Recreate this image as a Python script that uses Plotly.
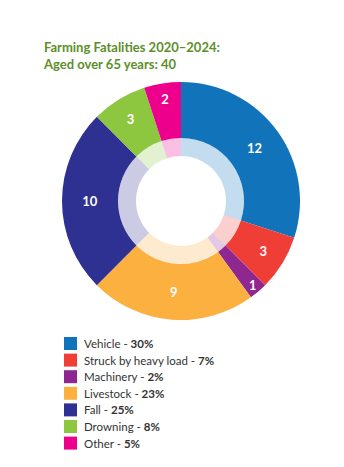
import plotly.graph_objects as go

categories = ["Vehicle", "Struck by heavy load", "Machinery", "Livestock", "Fall", "Drowning", "Other"]
values = [12, 3, 1, 9, 10, 3, 2]
percent_labels = ["30%", "7%", "2%", "23%", "25%", "8%", "5%"]
colors = ["#1174bb", "#ef3e36", "#8e278f", "#fbb040", "#2e3192", "#8dc63f", "#ec008c"]
title_lines = ["Farming Fatalities 2020–2024:", "Aged over 65 years: 40"]

W, H = 344, 467
cx, cy = 181, 201
r_out, r_mid, r_in = 119, 63, 45


def hex_rgba(h, a):
    h = h.lstrip("#")
    return f"rgba({int(h[0:2],16)},{int(h[2:4],16)},{int(h[4:6],16)},{a})"


def dom(r):
    return dict(x=[(cx - r) / W, (cx + r) / W], y=[(H - cy - r) / H, (H - cy + r) / H])


fig = go.Figure()
fig.add_trace(go.Pie(
    labels=categories, values=values, sort=False, direction="clockwise", rotation=0,
    hole=r_mid / r_out, domain=dom(r_out),
    marker=dict(colors=colors, line=dict(width=0)),
    texttemplate="%{value}", textposition="inside", insidetextorientation="horizontal",
    textfont=dict(family="Lato", size=13, color="white", weight="bold"),
    showlegend=False, hoverinfo="label+value",
))
fig.add_trace(go.Pie(
    labels=categories, values=values, sort=False, direction="clockwise", rotation=0,
    hole=r_in / r_mid, domain=dom(r_mid),
    marker=dict(colors=[hex_rgba(c, 0.25) for c in colors], line=dict(width=0)),
    textinfo="none", showlegend=False, hoverinfo="label+value",
))

fig.add_annotation(
    x=41 / W, y=1 - 37 / H, xref="paper", yref="paper", xanchor="left", yanchor="top",
    text="<br>".join(title_lines), align="left", showarrow=False,
    font=dict(family="Lato", size=13, color="#5c8f2b", weight="bold"),
)

y0, dy = 343.5, 16.6
for i, (c, p, col) in enumerate(zip(categories, percent_labels, colors)):
    yc = y0 + dy * i
    fig.add_shape(type="rect", xref="paper", yref="paper",
                  x0=64 / W, x1=77 / W, y0=1 - (yc + 6.5) / H, y1=1 - (yc - 6.5) / H,
                  fillcolor=col, line=dict(width=0))
    fig.add_annotation(x=82 / W, y=1 - yc / H, xref="paper", yref="paper",
                       xanchor="left", yanchor="middle", showarrow=False,
                       text=f"{c} - <b>{p}</b>",
                       font=dict(family="Lato", size=11.5, color="#333333"))

fig.update_layout(width=W, height=H, margin=dict(l=0, r=0, t=0, b=0),
                  paper_bgcolor="white", plot_bgcolor="white")
fig.write_html("out.html")
